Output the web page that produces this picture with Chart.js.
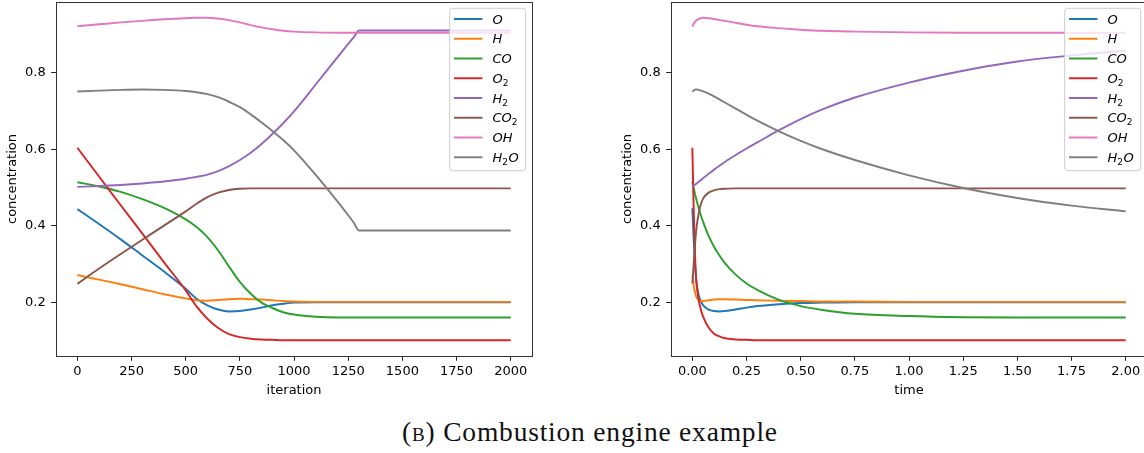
<!DOCTYPE html>
<html>
<head>
<meta charset="utf-8">
<script src="https://cdn.jsdelivr.net/npm/chart.js@4.4.1/dist/chart.umd.min.js"></script>
<style>
  html, body { margin: 0; padding: 0; background: #fff; }
  body { width: 1144px; height: 453px; overflow: hidden; position: relative; }
  .plot { position: absolute; top: 0; }
  #caption {
    position: absolute; left: 0; width: 1180px; top: 417px;
    text-align: center; font-family: "Liberation Serif", serif;
    font-size: 27.5px; letter-spacing: 0.8px; line-height: 30px; color: #111;
  }
  #caption .sc { font-variant: small-caps; }
</style>
</head>
<body>
<canvas id="iterChart" class="plot" style="left:0px" width="540" height="400"></canvas>
<canvas id="timeChart" class="plot" style="left:615px" width="540" height="400"></canvas>
<div id="caption">(<span class="sc">b</span>) Combustion engine example</div>

<script>
"use strict";

// species, in legend order (mathtext-ish, _ marks a subscript)
var species = ['O', 'H', 'CO', 'O_2', 'H_2', 'CO_2', 'OH', 'H_2O'];
var colors = ['#1f77b4', '#ff7f0e', '#2ca02c', '#d62728', '#9467bd', '#8c564b', '#e377c2', '#7f7f7f'];

// ---- left panel: concentration vs iteration
var iterations = [0, 100, 200, 300, 400, 500, 550, 600, 650, 700, 750, 800, 850, 900, 950, 1000, 1100, 1200, 1250, 1275, 1300, 1400, 2000];
var iterO   = [0.444, 0.405, 0.365, 0.323, 0.281, 0.236, 0.210, 0.193, 0.182, 0.177, 0.178, 0.182, 0.187, 0.193, 0.197, 0.200, 0.201, 0.201, 0.201, 0.201, 0.201, 0.201, 0.201];
var iterH   = [0.272, 0.260, 0.248, 0.235, 0.222, 0.211, 0.206, 0.205, 0.207, 0.209, 0.210, 0.209, 0.208, 0.206, 0.204, 0.203, 0.202, 0.202, 0.202, 0.202, 0.202, 0.202, 0.202];
var iterCO  = [0.514, 0.503, 0.489, 0.470, 0.447, 0.417, 0.397, 0.371, 0.336, 0.294, 0.254, 0.223, 0.200, 0.186, 0.175, 0.169, 0.163, 0.161, 0.161, 0.161, 0.161, 0.161, 0.161];
var iterO2  = [0.604, 0.529, 0.454, 0.380, 0.305, 0.232, 0.190, 0.158, 0.134, 0.118, 0.110, 0.106, 0.104, 0.103, 0.102, 0.102, 0.102, 0.102, 0.102, 0.102, 0.102, 0.102, 0.102];
var iterH2  = [0.502, 0.504, 0.507, 0.511, 0.516, 0.523, 0.528, 0.534, 0.543, 0.556, 0.572, 0.591, 0.614, 0.640, 0.668, 0.699, 0.769, 0.840, 0.875, 0.892, 0.910, 0.910, 0.910];
var iterCO2 = [0.249, 0.289, 0.327, 0.364, 0.401, 0.438, 0.458, 0.475, 0.487, 0.494, 0.497, 0.498, 0.498, 0.498, 0.498, 0.498, 0.498, 0.498, 0.498, 0.498, 0.498, 0.498, 0.498];
var iterOH  = [0.921, 0.926, 0.931, 0.935, 0.939, 0.942, 0.943, 0.943, 0.941, 0.937, 0.931, 0.924, 0.918, 0.913, 0.909, 0.907, 0.905, 0.904, 0.904, 0.904, 0.904, 0.904, 0.904];
var iterH2O = [0.751, 0.753, 0.755, 0.756, 0.755, 0.752, 0.749, 0.744, 0.736, 0.724, 0.710, 0.691, 0.670, 0.648, 0.624, 0.597, 0.533, 0.464, 0.428, 0.409, 0.388, 0.388, 0.388];

// ---- right panel: concentration vs time
var times = [0, 0.005, 0.01, 0.015, 0.02, 0.03, 0.04, 0.05, 0.075, 0.1, 0.125, 0.15, 0.2, 0.25, 0.3, 0.4, 0.5, 0.6, 0.75, 1.0, 1.25, 1.5, 1.75, 2.0];
var timeO   = [0.446, 0.380, 0.320, 0.280, 0.248, 0.218, 0.203, 0.193, 0.182, 0.178, 0.177, 0.178, 0.182, 0.187, 0.191, 0.196, 0.199, 0.200, 0.201, 0.201, 0.201, 0.201, 0.201, 0.201];
var timeH   = [0.272, 0.250, 0.232, 0.221, 0.213, 0.206, 0.204, 0.204, 0.206, 0.208, 0.209, 0.209, 0.208, 0.207, 0.206, 0.205, 0.204, 0.203, 0.203, 0.202, 0.202, 0.202, 0.202, 0.202];
var timeCO  = [0.515, 0.502, 0.489, 0.477, 0.466, 0.445, 0.426, 0.410, 0.374, 0.346, 0.323, 0.303, 0.273, 0.250, 0.233, 0.207, 0.191, 0.181, 0.171, 0.165, 0.162, 0.161, 0.161, 0.161];
var timeO2  = [0.604, 0.470, 0.360, 0.285, 0.245, 0.205, 0.180, 0.163, 0.135, 0.119, 0.112, 0.107, 0.104, 0.103, 0.102, 0.102, 0.102, 0.102, 0.102, 0.102, 0.102, 0.102, 0.102, 0.102];
var timeH2  = [0.502, 0.505, 0.507, 0.509, 0.511, 0.516, 0.520, 0.525, 0.536, 0.547, 0.557, 0.567, 0.585, 0.602, 0.618, 0.650, 0.679, 0.704, 0.735, 0.774, 0.805, 0.829, 0.845, 0.857];
var timeCO2 = [0.250, 0.290, 0.335, 0.372, 0.400, 0.435, 0.458, 0.472, 0.487, 0.493, 0.496, 0.497, 0.498, 0.498, 0.498, 0.498, 0.498, 0.498, 0.498, 0.498, 0.498, 0.498, 0.498, 0.498];
var timeOH  = [0.920, 0.926, 0.931, 0.934, 0.937, 0.940, 0.942, 0.943, 0.942, 0.940, 0.937, 0.935, 0.930, 0.925, 0.921, 0.916, 0.912, 0.909, 0.907, 0.905, 0.904, 0.904, 0.904, 0.904];
var timeH2O = [0.750, 0.753, 0.755, 0.756, 0.756, 0.755, 0.753, 0.751, 0.745, 0.738, 0.730, 0.722, 0.706, 0.690, 0.675, 0.647, 0.622, 0.600, 0.572, 0.532, 0.499, 0.473, 0.453, 0.438];

// tick labels
var iterTicks = [0, 250, 500, 750, 1000, 1250, 1500, 1750, 2000];
var timeTicks = [0, 0.25, 0.5, 0.75, 1.0, 1.25, 1.5, 1.75, 2.0];
var concTicks = [0.2, 0.4, 0.6, 0.8];


Chart.defaults.font.family = '"DejaVu Sans", sans-serif';
Chart.defaults.font.size = 13;
Chart.defaults.color = '#000';

// axes frame (all four spines)
var framePlugin = {
    id: 'frame',
    afterDatasetsDraw: function (chart) {
        var a = chart.chartArea, ctx = chart.ctx;
        var l = Math.round(a.left) + 0.5, t = Math.round(a.top) + 0.5;
        var r = Math.round(a.right) + 0.5, b = Math.round(a.bottom) + 0.5;
        ctx.save();
        ctx.strokeStyle = '#333';
        ctx.lineWidth = 1;
        ctx.strokeRect(l, t, r - l, b - t);
        ctx.restore();
    }
};

// draw "CO_2" style text with subscripts
function drawMathLabel(ctx, text, x, y) {
    var i = 0;
    while (i < text.length) {
        var ch = text[i];
        if (ch === '_') {
            ctx.font = '9px "DejaVu Sans"';
            ctx.fillText(text[i + 1], x, y + 3);
            x += ctx.measureText(text[i + 1]).width + 0.5;
            i += 2;
        } else {
            ctx.font = 'italic 13px "DejaVu Sans"';
            ctx.fillText(ch, x, y);
            x += ctx.measureText(ch).width;
            i += 1;
        }
    }
}

// legend in the upper right corner inside the axes
var insideLegend = {
    id: 'insideLegend',
    afterDraw: function (chart) {
        var a = chart.chartArea, ctx = chart.ctx;
        var w = 76, h = 162.4, rad = 3;
        var x0 = a.right - 6.7 - w, y0 = a.top + 6.6;
        ctx.save();
        ctx.beginPath();
        ctx.moveTo(x0 + rad, y0);
        ctx.lineTo(x0 + w - rad, y0);
        ctx.arcTo(x0 + w, y0, x0 + w, y0 + rad, rad);
        ctx.lineTo(x0 + w, y0 + h - rad);
        ctx.arcTo(x0 + w, y0 + h, x0 + w - rad, y0 + h, rad);
        ctx.lineTo(x0 + rad, y0 + h);
        ctx.arcTo(x0, y0 + h, x0, y0 + h - rad, rad);
        ctx.lineTo(x0, y0 + rad);
        ctx.arcTo(x0, y0, x0 + rad, y0, rad);
        ctx.closePath();
        ctx.fillStyle = 'rgba(255,255,255,0.8)';
        ctx.fill();
        ctx.strokeStyle = '#cccccc';
        ctx.lineWidth = 1;
        ctx.stroke();

        ctx.textBaseline = 'alphabetic';
        ctx.textAlign = 'left';
        chart.data.datasets.forEach(function (ds, i) {
            var y = y0 + 10.7 + i * 19.75;
            ctx.strokeStyle = ds.borderColor;
            ctx.lineWidth = 1.95;
            ctx.beginPath();
            ctx.moveTo(x0 + 4.3, y);
            ctx.lineTo(x0 + 32.7, y);
            ctx.stroke();
            ctx.fillStyle = '#000';
            drawMathLabel(ctx, ds.label, x0 + 42.7, y + 4.7);
        });
        ctx.restore();
    }
};

function makeDatasets(xs, series) {
    return series.map(function (ys, i) {
        return {
            label: species[i],
            data: xs.map(function (x, j) { return {x: x, y: ys[j]}; }),
            borderColor: colors[i],
            borderWidth: 1.95,
            pointRadius: 0,
            cubicInterpolationMode: 'monotone',
            order: series.length - i
        };
    });
}

function makeChart(id, xs, series, xTicks, xTitle, xMin, xMax, xDigits) {
    var ctx = document.getElementById(id).getContext('2d');
    return new Chart(ctx, {
        type: 'line',
        data: {datasets: makeDatasets(xs, series)},
        options: {
            responsive: false,
            animation: false,
            events: [],
            layout: {padding: {top: 1.7, right: 7.6, bottom: 1.2, left: 0}},
            plugins: {legend: {display: false}, tooltip: {enabled: false}},
            scales: {
                x: {
                    type: 'linear',
                    min: xMin,
                    max: xMax,
                    afterBuildTicks: function (scale) {
                        scale.ticks = xTicks.map(function (v) { return {value: v}; });
                    },
                    afterFit: function (scale) {
                        scale.height = 42.5;
                        scale.paddingLeft = 0;
                        scale.paddingRight = 0;
                    },
                    ticks: {
                        autoSkip: false,
                        maxRotation: 0,
                        padding: 3.5,
                        callback: function (v) { return v.toFixed(xDigits); }
                    },
                    grid: {drawOnChartArea: false, drawTicks: true, tickLength: 4.5, tickColor: '#222'},
                    border: {display: false},
                    title: {display: true, text: xTitle, padding: {top: 0, bottom: 0}}
                },
                y: {
                    min: 0.060,
                    max: 0.985,
                    afterBuildTicks: function (scale) {
                        scale.ticks = concTicks.map(function (v) { return {value: v}; });
                    },
                    afterFit: function (scale) {
                        scale.width = 55.7;
                        scale.paddingTop = 0;
                        scale.paddingBottom = 0;
                    },
                    ticks: {
                        padding: 5.5,
                        callback: function (v) { return v.toFixed(1); }
                    },
                    grid: {drawOnChartArea: false, drawTicks: true, tickLength: 4.5, tickColor: '#222'},
                    border: {display: false},
                    title: {display: true, text: 'concentration', padding: {top: 4.7, bottom: 0}}
                }
            }
        },
        plugins: [framePlugin, insideLegend]
    });
}

makeChart('iterChart', iterations,
    [iterO, iterH, iterCO, iterO2, iterH2, iterCO2, iterOH, iterH2O],
    iterTicks, 'iteration', -100, 2100, 0);

makeChart('timeChart', times,
    [timeO, timeH, timeCO, timeO2, timeH2, timeCO2, timeOH, timeH2O],
    timeTicks, 'time', -0.1, 2.1, 2);
</script>
</body>
</html>
